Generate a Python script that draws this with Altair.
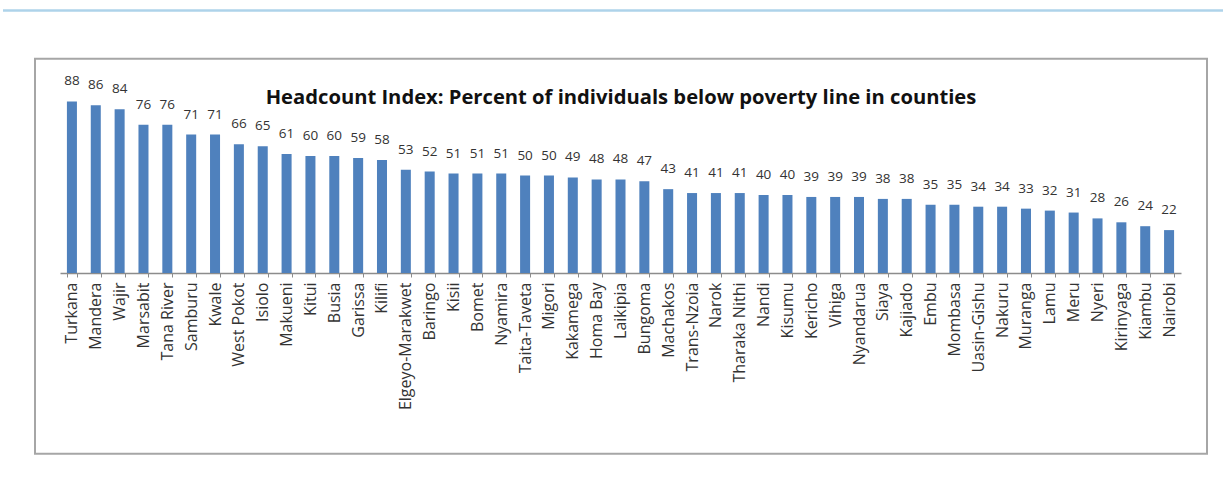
import altair as alt
import pandas as pd

counties = ["Turkana", "Mandera", "Wajir", "Marsabit", "Tana River", "Samburu", "Kwale",
            "West Pokot", "Isiolo", "Makueni", "Kitui", "Busia", "Garissa", "Kilifi",
            "Elgeyo-Marakwet", "Baringo", "Kisii", "Bomet", "Nyamira", "Taita-Taveta",
            "Migori", "Kakamega", "Homa Bay", "Laikipia", "Bungoma", "Machakos",
            "Trans-Nzoia", "Narok", "Tharaka Nithi", "Nandi", "Kisumu", "Kericho",
            "Vihiga", "Nyandarua", "Siaya", "Kajiado", "Embu", "Mombasa", "Uasin-Gishu",
            "Nakuru", "Muranga", "Lamu", "Meru", "Nyeri", "Kirinyaga", "Kiambu", "Nairobi"]
values = [88, 86, 84, 76, 76, 71, 71, 66, 65, 61, 60, 60, 59, 58, 53, 52, 51, 51, 51, 50,
          50, 49, 48, 48, 47, 43, 41, 41, 41, 40, 40, 39, 39, 39, 38, 38, 35, 35, 34, 34,
          33, 32, 31, 28, 26, 24, 22]
title_text = "Headcount Index: Percent of individuals below poverty line in counties"

df = pd.DataFrame({"county": counties, "value": values})
one = pd.DataFrame({"k": [0]})

W, H = 1121, 195
PL, PT = 60, 78

xenc = alt.X("county:N", sort=None, title=None,
             scale=alt.Scale(paddingInner=0.58, paddingOuter=0.29),
             axis=alt.Axis(labelAngle=-90, labelFont="Open Sans", labelFontSize=16,
                           labelColor="#333333", labelPadding=5,
                           domainColor="#8c8c8c", domainWidth=1.5,
                           tickColor="#8c8c8c", tickSize=4, tickWidth=1,
                           tickBand="extent"))
yenc = alt.Y("value:Q", scale=alt.Scale(domain=[0, 100], nice=False), axis=None)

bars = alt.Chart(df).mark_bar(color="#4F81BD").encode(x=xenc, y=yenc)
labels = alt.Chart(df).mark_text(dy=-20, baseline="middle", font="Open Sans",
                                 fontSize=13.5, color="#333333").encode(
    x=alt.X("county:N", sort=None), y="value:Q", text="value:Q")

frame = alt.Chart(one).mark_rect(fill=None, stroke="#a6a6a6", strokeWidth=2).encode(
    x=alt.value(35 - PL), x2=alt.value(1207 - PL),
    y=alt.value(58.7 - PT), y2=alt.value(453.7 - PT))
topline = alt.Chart(one).mark_rule(color="#aed3ea", strokeWidth=2.5).encode(
    x=alt.value(3 - PL), x2=alt.value(1223 - PL), y=alt.value(10.5 - PT))
title = alt.Chart(one).mark_text(font="Open Sans", fontWeight="bold", fontSize=20.2,
                                 color="#111111", baseline="middle", align="center").encode(
    x=alt.value(621 - PL), y=alt.value(98 - PT), text=alt.value(title_text))

chart = alt.layer(topline, frame, bars, labels, title).properties(
    width=W, height=H,
    padding={"left": PL, "top": PT, "right": 1223 - PL - W, "bottom": 489 - PT - H},
    autosize=alt.AutoSizeParams(type="none"),
    background="white",
).configure_view(stroke=None)

chart.save("out.html", embed_options={"renderer": "svg", "actions": False})
